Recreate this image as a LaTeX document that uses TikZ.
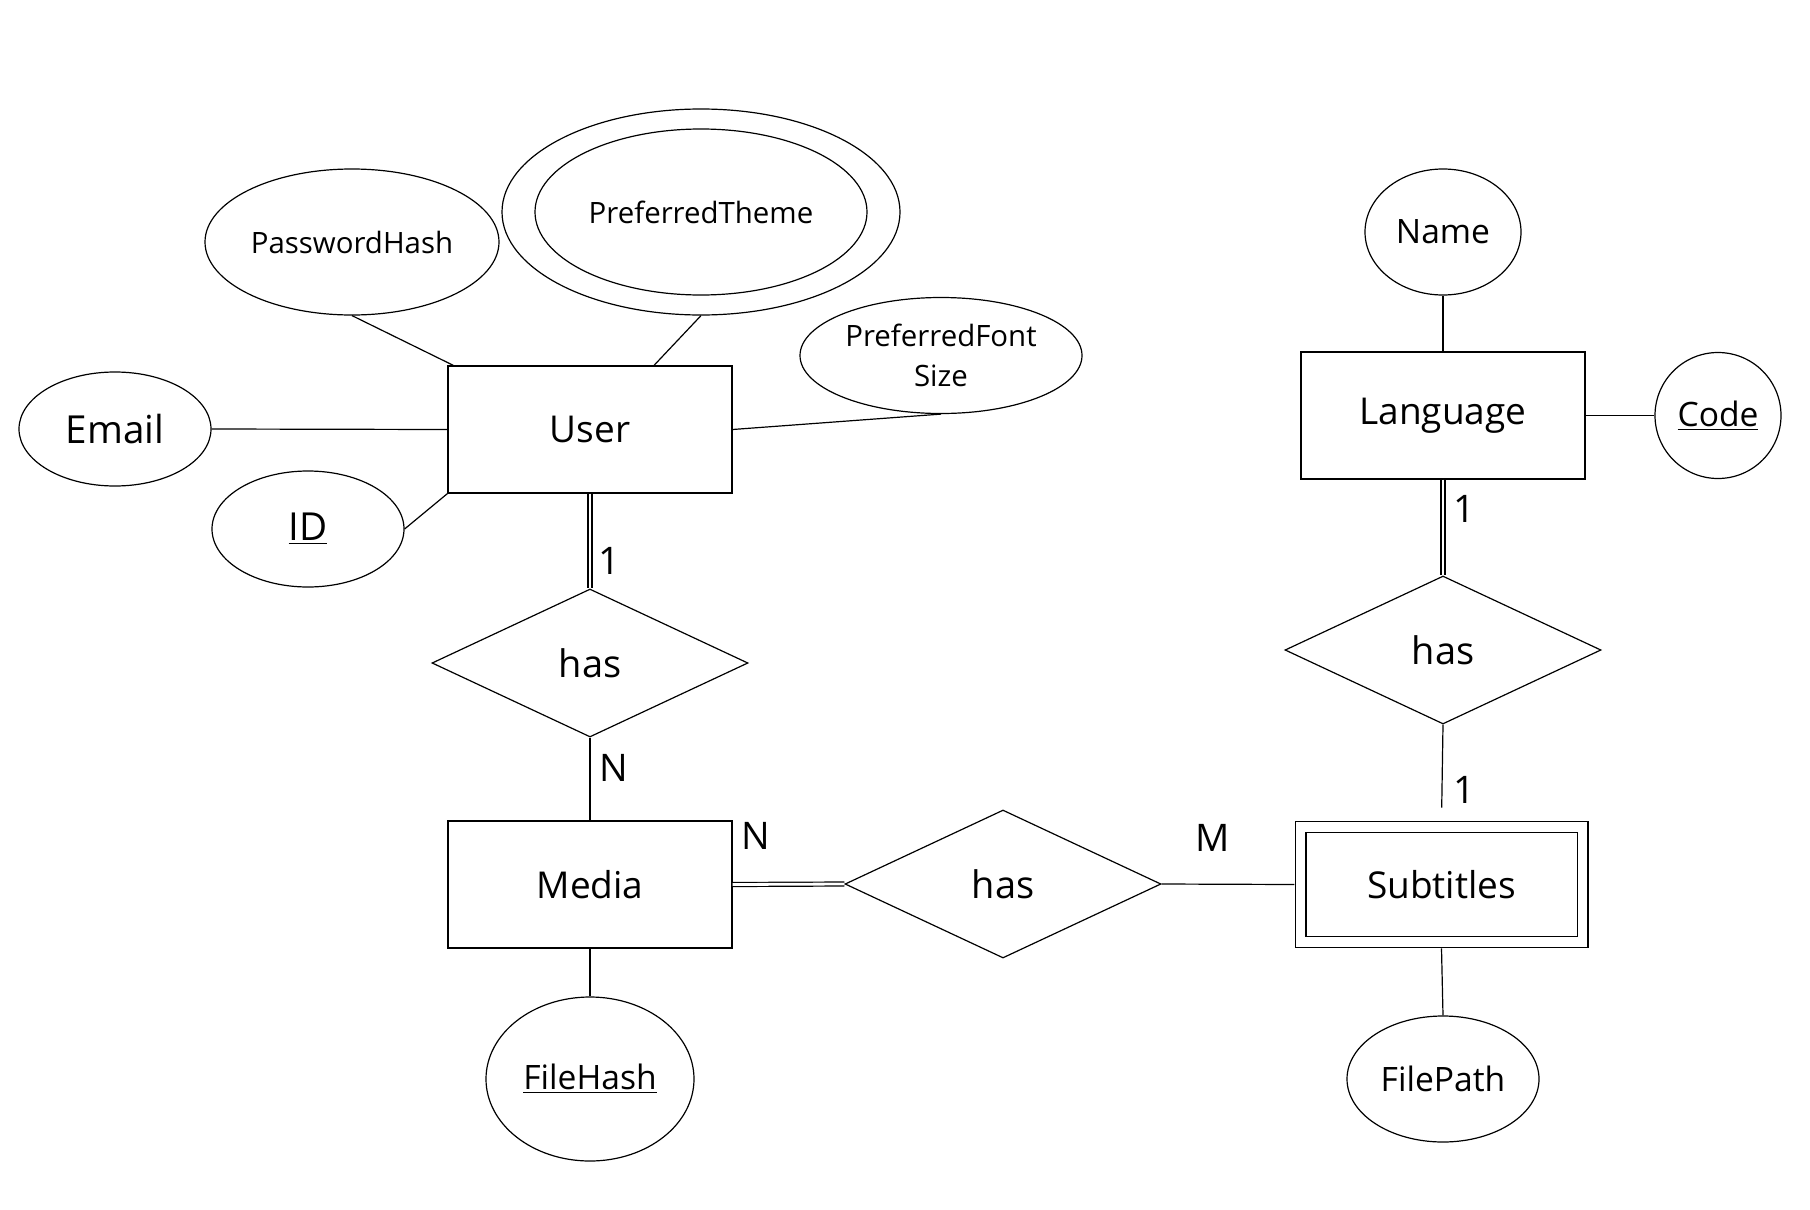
\documentclass[tikz,border=0pt]{standalone}
\usepackage{fontspec}
\setmainfont{Open Sans}
\usepackage{tikz}
\usetikzlibrary{positioning,shapes.geometric}

\tikzset{
  entity/.style={draw, rectangle, inner sep=0pt, minimum width=142pt, minimum height=63.5pt, font=\fontsize{18.5}{22}\selectfont},
  weakentity/.style={draw, rectangle, double, double distance=4.8pt, outer sep=3.1pt, inner sep=0pt, minimum width=141pt, minimum height=57.75pt, font=\fontsize{18.5}{22}\selectfont},
  rel/.style={draw, diamond, aspect=2.13, inner sep=0pt, minimum width=158pt, minimum height=74pt, font=\fontsize{19}{22}\selectfont},
  attr/.style={draw, ellipse, inner sep=0pt, font=\fontsize{16.8}{20}\selectfont},
  smallattr/.style={draw, ellipse, inner sep=0pt, align=center, font=\fontsize{14.7}{20}\selectfont},
  card/.style={inner sep=0pt, font=\fontsize{19}{22}\selectfont},
  total/.style={double, double distance=1.4pt}
}

\begin{document}
\begin{tikzpicture}[x=0.5pt, y=-0.5pt, line width=0.6pt]
            \useasboundingbox (0,0) rectangle (1810,1210);

            \node [entity] (user) at (590,429.5) {User};
            \node [entity] (media) at (590,884.5) {Media};
            \node [entity] (language) at (1443,415.5) {Language};
            \node [weakentity] (subtitles) at (1441.5,884.5) {Subtitles};

            \node [rel] (userhas) at (590,663) {has};
            \node [rel] (mediahas) at (1003,884) {has};
            \node [rel] (languagehas) at (1443,650) {has};

            \node [attr, minimum width=96pt, minimum height=57pt, font=\fontsize{19.3}{22}\selectfont] (email) at (115,429) {Email};
            \node [attr, minimum width=96pt, minimum height=58pt, font=\fontsize{19.3}{22}\selectfont] (id) at (308,529) {\underline{ID}};
            \node [smallattr, minimum width=147pt, minimum height=73pt] (password) at (352,242) {PasswordHash};
            \node [smallattr, minimum width=166pt, minimum height=83pt] (theme) at (701,212) {PreferredTheme};
            \node [draw, ellipse, minimum width=199pt, minimum height=103pt] (themeouter) at (701,212) {};
            \node [smallattr, minimum width=141pt, minimum height=58pt] (fontsize) at (941,355.5) {PreferredFont\\Size};
            \node [attr, minimum width=104pt, minimum height=82pt] (filehash) at (590,1079) {\underline{FileHash}};
            \node [attr, minimum width=96pt, minimum height=63pt] (filepath) at (1443,1079) {FilePath};
            \node [attr, minimum width=78pt, minimum height=63pt] (name) at (1443,232) {Name};
            \node [attr, minimum width=63pt, minimum height=63pt] (code) at (1718,415.5) {\underline{Code}};

            \draw (password.south) -- ([xshift=3pt]user.north west);
            \draw (themeouter.south) -- ([xshift=32pt]user.north);
            \draw (fontsize.south) -- (user.east);
            \draw (email.east) -- (user.west);
            \draw (id.east) -- (user.south west);
            \draw [total] (user.south) -- (userhas.north);
            \draw (userhas.south) -- (media.north);
            \draw (media.south) -- (filehash.north);
            \draw [total] (media.east) -- (mediahas.west);
            \draw (mediahas.east) -- (subtitles.west);
            \draw (subtitles.south) -- (filepath.north);
            \draw (language.north) -- (name.south);
            \draw (language.east) -- (code.west);
            \draw [total] (language.south) -- (languagehas.north);
            \draw [shorten >=6.5pt] (languagehas.south) -- (subtitles.north);

            \node [card] (userone) at (609,561) {1};
            \node [card] (mediamany) at (614,768) {N};
            \node [card] (median) at (756,836) {N};
            \node [card] (subtitlesm) at (1213,838) {M};
            \node [card] (languageone) at (1464,509) {1};
            \node [card] (subtitlesone) at (1464,790) {1};
\end{tikzpicture}
\end{document}
